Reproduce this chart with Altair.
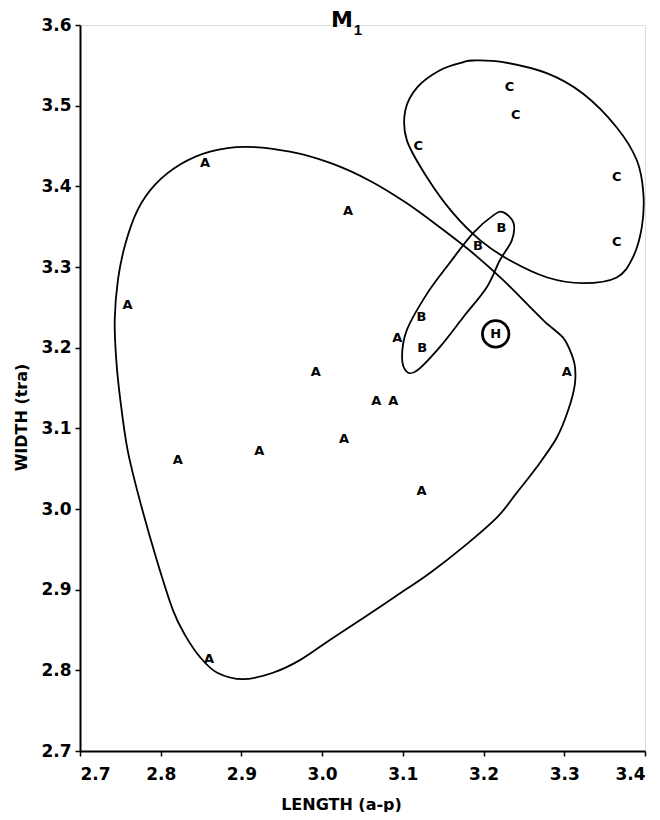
import altair as alt
import pandas as pd

# Specimen points (LENGTH a-p, WIDTH tra)
a_len = [2.855, 2.759, 3.032, 2.992, 3.093, 3.067, 3.088, 3.027, 2.922, 2.821, 3.123, 2.860, 3.303]
a_wid = [3.429, 3.253, 3.370, 3.170, 3.212, 3.134, 3.134, 3.087, 3.072, 3.061, 3.022, 2.814, 3.170]
b_len = [3.222, 3.193, 3.123, 3.124]
b_wid = [3.348, 3.326, 3.238, 3.199]
c_len = [3.232, 3.240, 3.119, 3.365, 3.365]
c_wid = [3.523, 3.488, 3.450, 3.411, 3.331]
h_len = [3.215]
h_wid = [3.217]

# Hand-drawn group outlines (data units)
outline_a_x = [2.904, 2.861, 2.824, 2.793, 2.771, 2.756, 2.747, 2.743, 2.745, 2.750, 2.759, 2.774,
               2.795, 2.815, 2.830, 2.849, 2.870, 2.902, 2.939, 2.973, 3.010, 3.051, 3.093, 3.134,
               3.175, 3.217, 3.241, 3.266, 3.291, 3.305, 3.313, 3.313, 3.307, 3.298, 3.276, 3.258,
               3.224, 3.187, 3.146, 3.105, 3.059, 3.010, 2.960]
outline_a_y = [3.449, 3.443, 3.427, 3.402, 3.370, 3.328, 3.284, 3.234, 3.184, 3.135, 3.073, 3.011,
               2.937, 2.875, 2.844, 2.816, 2.797, 2.789, 2.797, 2.813, 2.838, 2.865, 2.893, 2.921,
               2.953, 2.990, 3.020, 3.052, 3.089, 3.123, 3.154, 3.178, 3.197, 3.213, 3.232, 3.250,
               3.284, 3.317, 3.349, 3.379, 3.407, 3.429, 3.443]
outline_b_x = [3.224, 3.237, 3.235, 3.220, 3.204, 3.175, 3.146, 3.118, 3.105, 3.099, 3.105, 3.130,
               3.158, 3.187, 3.212]
outline_b_y = [3.368, 3.355, 3.333, 3.308, 3.275, 3.238, 3.201, 3.172, 3.170, 3.188, 3.222, 3.267,
               3.305, 3.342, 3.364]
outline_c_x = [3.187, 3.224, 3.279, 3.323, 3.365, 3.390, 3.398, 3.396, 3.385, 3.365, 3.323, 3.279,
               3.233, 3.196, 3.162, 3.130, 3.105, 3.103, 3.118, 3.146, 3.175]
outline_c_y = [3.556, 3.554, 3.540, 3.515, 3.473, 3.432, 3.391, 3.349, 3.312, 3.287, 3.280, 3.287,
               3.308, 3.333, 3.367, 3.411, 3.457, 3.494, 3.523, 3.544, 3.554]

x_ticks = [2.7, 2.8, 2.9, 3.0, 3.1, 3.2, 3.3, 3.4]
y_ticks = [2.7, 2.8, 2.9, 3.0, 3.1, 3.2, 3.3, 3.4, 3.5, 3.6]

title_main = "M"
title_sub = "1"

FONT = "DejaVu Sans"

pts = pd.DataFrame({
    "x": a_len + b_len + c_len + h_len,
    "y": a_wid + b_wid + c_wid + h_wid,
    "label": ["A"] * len(a_len) + ["B"] * len(b_len) + ["C"] * len(c_len) + ["H"] * len(h_len),
})

rows = []
for name, xs, ys in [("A", outline_a_x, outline_a_y), ("B", outline_b_x, outline_b_y), ("C", outline_c_x, outline_c_y)]:
    for i, (xv, yv) in enumerate(zip(xs, ys)):
        rows.append({"group": name, "idx": i, "x": xv, "y": yv})
outlines = pd.DataFrame(rows)

xscale = alt.Scale(domain=[2.7, 3.4], nice=False, zero=False)
yscale = alt.Scale(domain=[2.7, 3.6], nice=False, zero=False)

xaxis = alt.Axis(
    values=x_ticks, format=".1f", grid=False, domainColor="black", domainWidth=2,
    tickColor="black", tickWidth=1.5, tickSize=5, labelPadding=10,
    labelFont=FONT, labelFontWeight="bold", labelFontSize=17, labelColor="black",
    title="LENGTH (a-p)", titleFont=FONT, titleFontWeight="bold", titleFontSize=16,
    titleColor="black", titleX=261, titleY=58, titleBaseline="alphabetic", titleAlign="center",
)
yaxis = alt.Axis(
    values=y_ticks, format=".1f", grid=False, domainColor="black", domainWidth=2,
    tickColor="black", tickWidth=1.5, tickSize=5, labelPadding=4,
    labelFont=FONT, labelFontWeight="bold", labelFontSize=17, labelColor="black",
    title="WIDTH (tra)", titleFont=FONT, titleFontWeight="bold", titleFontSize=16,
    titleColor="black", titleX=-59, titleY=392, titleAngle=270, titleAlign="center",
    titleBaseline="middle",
)

lines = alt.Chart(outlines).mark_line(
    interpolate="cardinal-closed", color="black", strokeWidth=1.8
).encode(
    x=alt.X("x:Q", scale=xscale, axis=xaxis),
    y=alt.Y("y:Q", scale=yscale, axis=yaxis),
    detail="group:N",
    order="idx:Q",
)

letters = alt.Chart(pts).mark_text(
    font=FONT, fontWeight="bold", fontSize=13, color="black", align="center", baseline="middle"
).encode(
    x=alt.X("x:Q", scale=xscale),
    y=alt.Y("y:Q", scale=yscale),
    text="label:N",
)

hring = alt.Chart(pts[pts["label"] == "H"]).mark_point(
    shape="circle", filled=False, size=700, color="black", strokeWidth=2.8, opacity=1
).encode(
    x=alt.X("x:Q", scale=xscale),
    y=alt.Y("y:Q", scale=yscale),
)

title_df = pd.DataFrame({"t": [title_main]})
t_main = alt.Chart(title_df).mark_text(
    text=title_main, font=FONT, fontWeight="bold", fontSize=22, color="black",
    align="center", baseline="alphabetic"
).encode(x=alt.value(262), y=alt.value(2))
t_sub = alt.Chart(title_df).mark_text(
    text=title_sub, font="Liberation Sans", fontWeight="bold", fontSize=15, color="black",
    align="center", baseline="alphabetic"
).encode(x=alt.value(278), y=alt.value(10))

chart = alt.layer(lines, hring, letters, t_main, t_sub).properties(
    width=565, height=726,
    autosize=alt.AutoSizeParams(type="none"),
    padding={"left": 72, "top": 17, "right": 7, "bottom": 61},
).configure_view(stroke=None).configure(background="white")

chart.save("out.html", embed_options={"renderer": "svg", "actions": False})
